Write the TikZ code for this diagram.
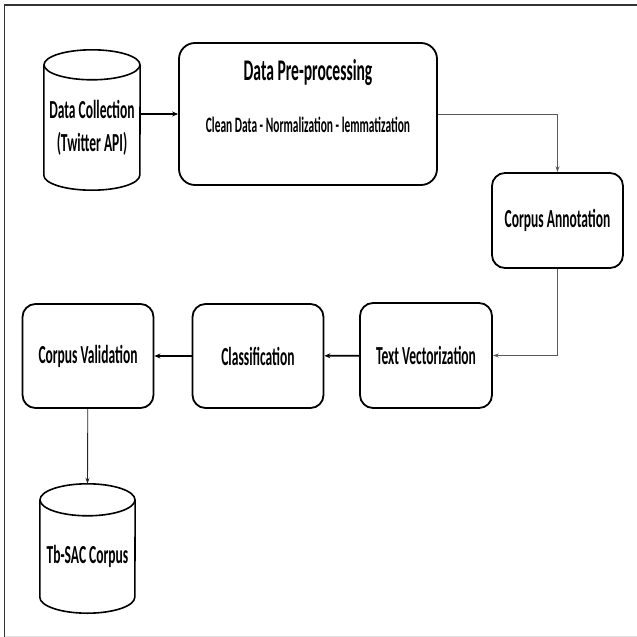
\documentclass[tikz,border=0pt]{standalone}
\usepackage{fontspec}
\setmainfont{Carlito}[FakeStretch=0.52]
\usetikzlibrary{shapes, arrows.meta, positioning, calc}

\tikzset{
    stage/.style={draw=black, line width=1.8pt, rounded corners=13pt,
        minimum width=131pt, minimum height=104pt, align=center,
        font=\bfseries\fontsize{26}{33}\selectfont},
    store/.style={rectangle, align=center, inner sep=0pt,
        font=\bfseries\fontsize{26}{33}\selectfont},
    cyl/.style={draw=black, line width=1.6pt},
    flow/.style={-{Stealth[length=6pt,width=5pt]}, line width=1.8pt},
    link/.style={-{Stealth[length=6pt,width=4pt]}, line width=0.9pt, draw=black!65},
}

\begin{document}
\begin{tikzpicture}[x=1pt, y=-1pt]
    % Page frame
    \useasboundingbox (0,0) rectangle (637,637);
    \draw[line width=1.5pt, black!80] (637,5) -- (4.5,5) -- (4.5,637);
    \draw[line width=1pt, black!12] (4.5,636) -- (637,636);

    % Top row
    \node[store, minimum width=96pt, minimum height=125pt] (collect) at (92,127.5) {Data Collection\\(Twitter API)};
    \draw[cyl] (collect.north west) -- ($(collect.south west)+(0,-15)$)
        arc[start angle=180, end angle=0, x radius=48, y radius=15] -- (collect.north east);
    \draw[cyl] (collect.north) ellipse[x radius=48, y radius=15];

    \node[stage, minimum width=258pt, minimum height=142pt, rounded corners=16pt] (prep) at (308,114) {};
    \node[anchor=base, font=\bfseries\fontsize{30}{32}\selectfont] (preptitle) at (308,80) {Data Pre-processing};
    \node[anchor=base, font=\bfseries\fontsize{22}{24}\selectfont] (prepsub) at (308,132) {Clean Data - Normalization - lemmatization};

    % Right column
    \node[stage, minimum height=95pt] (annot) at (557.5,220.5) {Corpus Annotation};

    % Middle row
    \node[stage, minimum width=132pt, minimum height=105pt] (vector) at (426,355.5) {Text Vectorization};
    \node[stage] (classify) at (258,356) {Classification};
    \node[stage] (valid) at (88,356) {Corpus Validation};

    % Output store
    \node[store, minimum width=95pt, minimum height=113pt] (tbsac) at (87.5,556.5) {Tb-SAC Corpus};
    \draw[cyl] (tbsac.north west) -- ($(tbsac.south west)+(0,-16)$)
        arc[start angle=180, end angle=0, x radius=47.5, y radius=16] -- (tbsac.north east);
    \draw[cyl] (tbsac.north) ellipse[x radius=47.5, y radius=16];
    \coordinate (tbtop) at ($(tbsac.north)+(0,-16)$);

    % Connectors
    \draw[flow] (prep.west -| collect.east) -- (prep.west);
    \draw[link] (prep.east) -| (annot.north);
    \draw[link] (annot.south) |- (vector.east);
    \draw[flow] (vector) -- (classify);
    \draw[flow] (classify) -- (valid);
    \draw[link, draw=black!85] (valid) -- (tbtop);
\end{tikzpicture}
\end{document}
